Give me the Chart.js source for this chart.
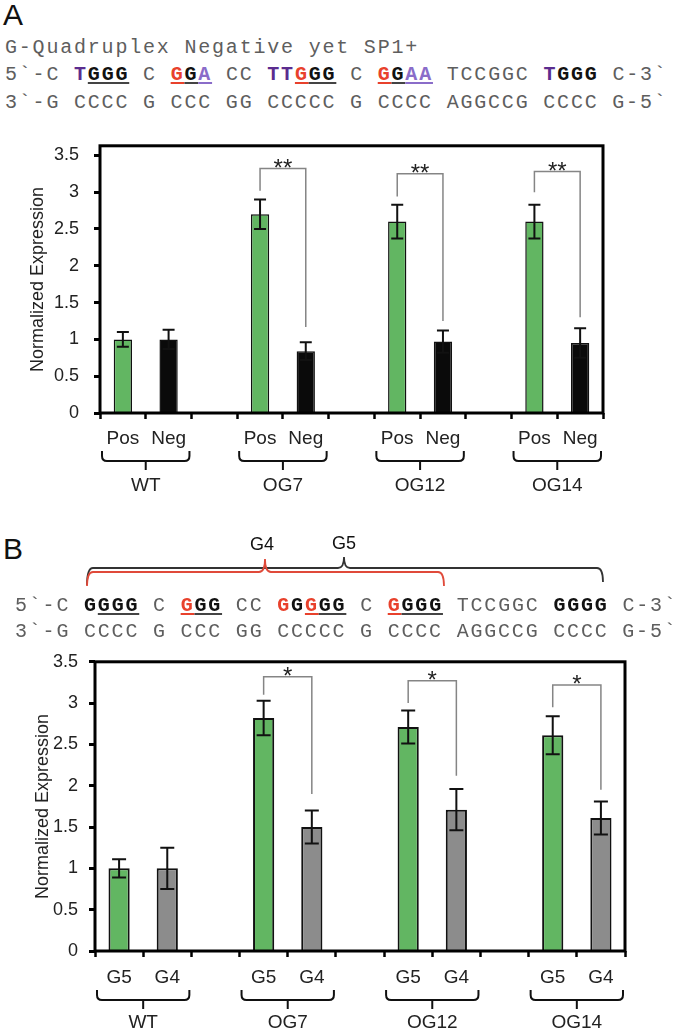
<!DOCTYPE html>
<html lang="en">
<head>
<meta charset="UTF-8">
<title>G-Quadruplex expression</title>
<script src="https://cdn.jsdelivr.net/npm/chart.js"></script>
<style>
    body {
        margin: 0;
        background: #ffffff;
        font-family: Arial, "Liberation Sans", sans-serif;
    }
    .page {
        position: relative;
        width: 677px;
        height: 1034px;
        overflow: hidden;
    }
    .panel-label {
        position: absolute;
        font-size: 30px;
        line-height: 30px;
        color: #111;
    }
    .seq {
        position: absolute;
        font-family: "Liberation Mono", "DejaVu Sans Mono", monospace;
        font-size: 20px;
        line-height: 20px;
        letter-spacing: 1.8px;
        color: #5e5e5e;
        white-space: pre;
    }
    .seq b { font-weight: bold; color: #111; }
    .p { color: #5b2c8f; }
    .pl { color: #8a6cc9; }
    .r { color: #e8412c; }
    .k { color: #111; }
    .u {
        text-decoration: underline;
        text-decoration-thickness: 2px;
        text-underline-offset: 2px;
    }
    .k.u { text-decoration-color: #444; }
    .box {
        position: absolute;
        left: 0;
        width: 677px;
    }
    svg { position: absolute; left: 0; top: 0; }
</style>
</head>
<body>
<div class="page">
    <div class="panel-label" style="left:3px; top:0px;">A</div>
    <div class="seq" style="left:5px; top:38px;">G-Quadruplex Negative yet SP1+</div>
    <div class="seq" style="left:5px; top:65px;">5`-C <b><span class="p">T</span><span class="k u">GGG</span></b> C <b><span class="r u">G</span><span class="k u">G</span><span class="pl u">A</span></b> CC <b><span class="p">TT</span><span class="r u">G</span><span class="k u">GG</span></b> C <b><span class="r u">G</span><span class="k u">G</span><span class="pl u">AA</span></b> TCCGGC <b><span class="p">T</span>GGG</b> C-3`</div>
    <div class="seq" style="left:5px; top:93px;">3`-G CCCC G CCC GG CCCCC G CCCC AGGCCG CCCC G-5`</div>
    <div class="box" style="top:120px; height:390px;"><canvas id="chartA"></canvas></div>

    <div class="panel-label" style="left:3px; top:534px;">B</div>
    <svg width="677" height="600" viewBox="0 0 677 600" style="top:0;">
        <path d="M87,585 Q87,568 93,568 L338,568 Q344,568 344,557 Q344,568 350,568 L597,568 Q603,568 603,582" fill="none" stroke="#333" stroke-width="1.8"/>
        <path d="M87,586 Q87,572 93,572 L259,572 Q265,572 265,559 Q265,572 271,572 L438,572 Q444,572 444,586" fill="none" stroke="#e04a3a" stroke-width="1.8"/>
        <text x="262" y="550" text-anchor="middle" font-family="Arial, Liberation Sans, sans-serif" font-size="18" fill="#111">G4</text>
        <text x="344" y="549" text-anchor="middle" font-family="Arial, Liberation Sans, sans-serif" font-size="18" fill="#111">G5</text>
    </svg>
    <div class="seq" style="left:15px; top:596px;">5`-C <b><span class="k">G</span><span class="k u">GGG</span></b> C <b><span class="r u">G</span><span class="k u">GG</span></b> CC <b><span class="r">G</span><span class="k">G</span><span class="r u">G</span><span class="k u">GG</span></b> C <b><span class="r u">G</span><span class="k u">GGG</span></b> TCCGGC <b>GGGG</b> C-3`</div>
    <div class="seq" style="left:15px; top:622px;">3`-G CCCC G CCC GG CCCCC G CCCC AGGCCG CCCC G-5`</div>
    <div class="box" style="top:640px; height:394px;"><canvas id="chartB"></canvas></div>
</div>
<script>
// shared
const groups = ['WT', 'OG7', 'OG12', 'OG14'];
const yTicks = [0, 0.5, 1, 1.5, 2, 2.5, 3, 3.5];

// panel A
const catsA = ['Pos', 'Neg', '', 'Pos', 'Neg', '', 'Pos', 'Neg', '', 'Pos', 'Neg'];
const posA = [1.00, 2.70, 2.60, 2.60];
const posErrA = [0.10, 0.20, 0.23, 0.23];
const negA = [1.00, 0.84, 0.97, 0.95];
const negErrA = [0.13, 0.12, 0.15, 0.20];
const sigA = ['**', '**', '**'];
const sigTopA = [3.32, 3.25, 3.28];
const sigLeftA = [3.02, 2.94, 3.00];
const sigRightA = [1.17, 1.25, 1.30];

// panel B
const catsB = ['G5', 'G4', '', 'G5', 'G4', '', 'G5', 'G4', '', 'G5', 'G4'];
const g5B = [1.00, 2.82, 2.71, 2.61];
const g5ErrB = [0.11, 0.21, 0.20, 0.23];
const g4B = [1.00, 1.50, 1.71, 1.61];
const g4ErrB = [0.25, 0.20, 0.25, 0.20];
const sigB = ['*', '*', '*'];
const sigTopB = [3.32, 3.27, 3.22];
const sigLeftB = [3.10, 3.00, 2.95];
const sigRightB = [1.90, 2.12, 1.95];

Chart.defaults.font.family = 'Arial, "Liberation Sans", sans-serif';
Chart.defaults.color = '#222';

// spread per-group values onto the 11 category slots (pair + gap)
function spread(vals, off, n) {
    const out = new Array(n).fill(null);
    vals.forEach((v, g) => { out[g * 3 + off] = v; });
    return out;
}

const panelPlugin = {
    id: 'panel',
    afterDatasetsDraw(chart, args, o) {
        const {ctx, scales: {x, y}} = chart;
        ctx.save();
        // error bars
        ctx.strokeStyle = '#111';
        ctx.lineWidth = 2;
        chart.data.datasets.forEach((ds, di) => {
            const meta = chart.getDatasetMeta(di);
            ds.data.forEach((v, i) => {
                if (v === null) return;
                const e = ds.errors[i];
                const px = meta.data[i].x;
                const t = y.getPixelForValue(v + e);
                const b = y.getPixelForValue(v - e);
                ctx.beginPath();
                ctx.moveTo(px, t); ctx.lineTo(px, b);
                ctx.moveTo(px - o.cap, t); ctx.lineTo(px + o.cap, t);
                ctx.moveTo(px - o.cap, b); ctx.lineTo(px + o.cap, b);
                ctx.stroke();
            });
        });
        // significance brackets
        ctx.strokeStyle = '#858585';
        ctx.lineWidth = 1.5;
        ctx.fillStyle = '#222';
        ctx.font = '24px Arial, "Liberation Sans", sans-serif';
        ctx.textAlign = 'center';
        ctx.textBaseline = 'alphabetic';
        o.sig.forEach((s, k) => {
            const xl = x.getPixelForValue((k + 1) * 3);
            const xr = x.getPixelForValue((k + 1) * 3 + 1);
            const yt = y.getPixelForValue(o.sigTop[k]);
            ctx.beginPath();
            ctx.moveTo(xl, y.getPixelForValue(o.sigLeft[k]));
            ctx.lineTo(xl, yt);
            ctx.lineTo(xr, yt);
            ctx.lineTo(xr, y.getPixelForValue(o.sigRight[k]));
            ctx.stroke();
            ctx.fillText(s, (xl + xr) / 2, yt + 7);
        });
        ctx.restore();
    },
    afterDraw(chart, args, o) {
        const {ctx, chartArea: a, scales: {x}} = chart;
        ctx.save();
        // frame
        ctx.strokeStyle = '#000';
        ctx.lineWidth = 3;
        ctx.strokeRect(a.left, a.top, a.right - a.left, a.bottom - a.top);
        // braces and group names
        const half = (x.getPixelForValue(1) - x.getPixelForValue(0)) / 2;
        ctx.strokeStyle = '#111';
        ctx.lineWidth = 2;
        ctx.fillStyle = '#222';
        ctx.font = '19px Arial, "Liberation Sans", sans-serif';
        ctx.textAlign = 'center';
        ctx.textBaseline = 'middle';
        const yT = a.bottom + o.braceTop, yH = a.bottom + o.braceTop + 10, yTip = yH + 9, r = 5;
        groups.forEach((g, k) => {
            const xl = x.getPixelForValue(k * 3) - half + 2;
            const xr = x.getPixelForValue(k * 3 + 1) + half - 2;
            const xm = (xl + xr) / 2;
            ctx.beginPath();
            ctx.moveTo(xl, yT);
            ctx.lineTo(xl, yH - r);
            ctx.quadraticCurveTo(xl, yH, xl + r, yH);
            ctx.lineTo(xr - r, yH);
            ctx.quadraticCurveTo(xr, yH, xr, yH - r);
            ctx.lineTo(xr, yT);
            ctx.moveTo(xm, yH);
            ctx.lineTo(xm, yTip);
            ctx.stroke();
            ctx.fillText(g, xm, a.bottom + o.groupY);
        });
        ctx.restore();
    }
};

function makeChart(id, p) {
    const n = p.cats.length;
    return new Chart(document.getElementById(id).getContext('2d'), {
        type: 'bar',
        data: {
            labels: p.cats,
            datasets: [{
                label: p.names[0],
                data: spread(p.first, 0, n),
                errors: spread(p.firstErr, 0, n),
                backgroundColor: '#62b662',
                borderColor: '#111',
                borderWidth: p.border,
                grouped: false,
                barPercentage: p.barPct,
                categoryPercentage: 1
            }, {
                label: p.names[1],
                data: spread(p.second, 1, n),
                errors: spread(p.secondErr, 1, n),
                backgroundColor: p.secondColor,
                borderColor: '#111',
                borderWidth: p.border,
                grouped: false,
                barPercentage: p.barPct,
                categoryPercentage: 1
            }]
        },
        options: {
            responsive: true,
            maintainAspectRatio: false,
            animation: false,
            layout: { padding: { top: p.padTop, right: p.padRight, left: 0, bottom: 0 } },
            plugins: {
                legend: { display: false },
                tooltip: { enabled: false },
                panel: {
                    cap: p.cap,
                    sig: p.sig, sigTop: p.sigTop, sigLeft: p.sigLeft, sigRight: p.sigRight,
                    braceTop: p.braceTop, groupY: p.groupY
                }
            },
            scales: {
                x: {
                    afterFit: s => { s.height = p.xHeight; },
                    border: { display: false },
                    grid: {
                        offset: true,
                        drawOnChartArea: false,
                        tickLength: 6,
                        tickWidth: 2.5,
                        tickColor: '#000'
                    },
                    ticks: {
                        autoSkip: false,
                        maxRotation: 0,
                        padding: p.xPad,
                        font: { size: 19 },
                        color: '#222'
                    }
                },
                y: {
                    min: 0,
                    max: p.yMax,
                    afterFit: s => { s.width = p.yWidth; },
                    afterBuildTicks: s => { s.ticks = yTicks.map(v => ({ value: v })); },
                    border: { display: false },
                    grid: {
                        drawOnChartArea: false,
                        tickLength: 6,
                        tickWidth: 3,
                        tickColor: '#000'
                    },
                    ticks: {
                        padding: p.yPad,
                        font: { size: 18 },
                        color: '#222',
                        callback: v => String(v)
                    },
                    title: {
                        display: true,
                        text: 'Normalized Expression',
                        font: { size: 18 },
                        color: '#222',
                        padding: { top: p.titlePad, bottom: 0 }
                    }
                }
            }
        },
        plugins: [panelPlugin]
    });
}

makeChart('chartA', {
    cats: catsA, names: ['Pos', 'Neg'],
    first: posA, firstErr: posErrA, second: negA, secondErr: negErrA,
    secondColor: '#0a0a0a', border: 1.5, barPct: 0.4, cap: 6,
    sig: sigA, sigTop: sigTopA, sigLeft: sigLeftA, sigRight: sigRightA,
    padTop: 13, padRight: 74, yWidth: 100, xHeight: 97, yMax: 3.63,
    xPad: 8, yPad: 15, titlePad: 27, braceTop: 38, groupY: 73
});

makeChart('chartB', {
    cats: catsB, names: ['G5', 'G4'],
    first: g5B, firstErr: g5ErrB, second: g4B, secondErr: g4ErrB,
    secondColor: '#8c8c8c', border: 2, barPct: 0.44, cap: 7,
    sig: sigB, sigTop: sigTopB, sigLeft: sigLeftB, sigRight: sigRightB,
    padTop: 18, padRight: 52, yWidth: 95, xHeight: 83, yMax: 3.5,
    xPad: 9, yPad: 11, titlePad: 32, braceTop: 39, groupY: 72
});
</script>
</body>
</html>
